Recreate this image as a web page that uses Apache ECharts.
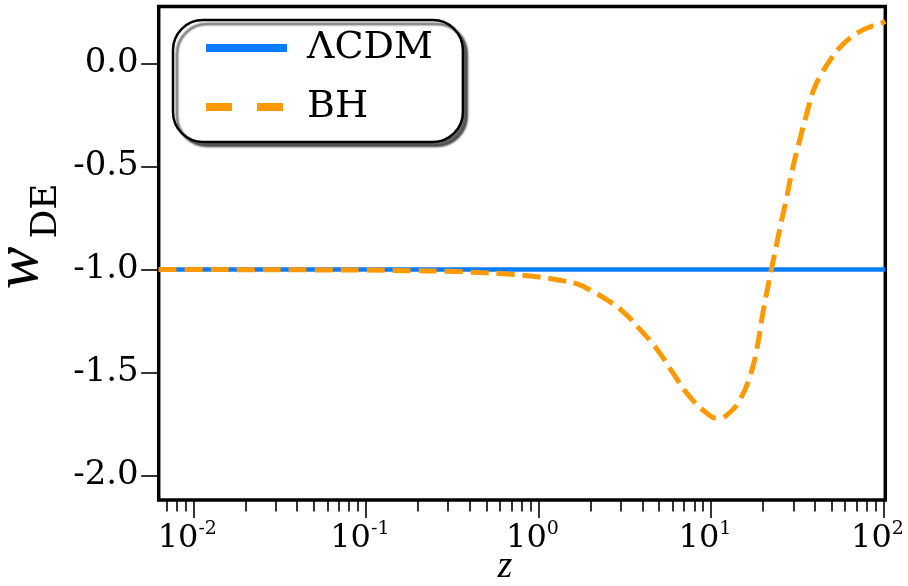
<!DOCTYPE html>
<html>
<head>
<meta charset="utf-8">
<script src="https://cdn.jsdelivr.net/npm/echarts@6/dist/echarts.min.js"></script>
<style>
  html, body { margin: 0; padding: 0; background: #fff; }
  #chart { width: 908px; height: 586px; }
</style>
</head>
<body>
<div id="chart"></div>
<script>
// Dark-energy equation of state w_DE(z) for the BH model, compared with ΛCDM.
const zBH = [0.0063, 0.01, 0.02, 0.05, 0.1, 0.19, 0.3, 0.46, 0.66, 0.93, 1.28, 1.67, 2.0, 2.5, 3.1, 3.9,
             4.9, 6.0, 7.5, 9.4, 10.9, 12.4, 14.7, 16.8, 18.4, 20.0, 21.9, 24.1, 25.7, 27.5, 29.4,
             32.5, 36.0, 39.5, 44, 49, 56, 70, 83, 100, 102.4];
const wBH = [-1.000, -1.000, -1.001, -1.002, -1.003, -1.006, -1.009, -1.015, -1.022, -1.033, -1.05, -1.07,
             -1.10, -1.148, -1.206, -1.293, -1.39, -1.50, -1.615, -1.695, -1.722, -1.705, -1.632, -1.52,
             -1.39, -1.21, -1.04, -0.872, -0.76, -0.649, -0.528, -0.38, -0.24, -0.125, -0.048, 0.015,
             0.078, 0.145, 0.176, 0.199, 0.203];
const zLCDM = [0.0063, 102.4];
const wLCDM = [-1.0, -1.0];

const xMajorTicks = [0.01, 0.1, 1, 10, 100];
const xMinorTicks = [0.007, 0.008, 0.009,
                     0.02, 0.03, 0.04, 0.05, 0.06, 0.07, 0.08, 0.09,
                     0.2, 0.3, 0.4, 0.5, 0.6, 0.7, 0.8, 0.9,
                     2, 3, 4, 5, 6, 7, 8, 9,
                     20, 30, 40, 50, 60, 70, 80, 90];
const yTicks = [-2.0, -1.5, -1.0, -0.5, 0.0];

const X_MIN = 0.0063, X_MAX = 102.4;
const Y_MIN = -2.118, Y_MAX = 0.2755;

const SERIF = '"DejaVu Serif", serif';
const MATH = '"Liberation Serif", serif';

const pairs = (xs, ys) => xs.map((x, i) => [x, ys[i]]);

const chart = echarts.init(document.getElementById('chart'), null, { renderer: 'canvas' });

const baseX = {
  type: 'log',
  logBase: 10,
  min: X_MIN,
  max: X_MAX,
  position: 'bottom',
  axisLine: { show: false, onZero: false },
  splitLine: { show: false },
  minorTick: { show: false }
};

chart.setOption({
  animation: false,
  backgroundColor: '#fff',
  grid: {
    left: 158.7, right: 22.7, top: 6.5, bottom: 86,
    show: true, borderColor: '#000', borderWidth: 3.5, backgroundColor: 'transparent'
  },
  xAxis: [
    Object.assign({}, baseX, {
      axisTick: { show: true, length: 18, customValues: xMajorTicks, lineStyle: { color: '#000', width: 1.6 } },
      axisLabel: {
        show: true,
        customValues: xMajorTicks,
        margin: 20,
        padding: [0, 12, 0, 0],
        formatter: v => '{b|10}{s|' + Math.round(Math.log10(v)) + '}',
        rich: {
          b: { fontFamily: SERIF, fontSize: 32, color: '#000', lineHeight: 38 },
          s: { fontFamily: SERIF, fontSize: 19, color: '#000', lineHeight: 19, verticalAlign: 'top' }
        }
      }
    }),
    Object.assign({}, baseX, {
      axisTick: { show: true, length: 11.5, customValues: xMinorTicks, lineStyle: { color: '#000', width: 1.6 } },
      axisLabel: { show: false }
    })
  ],
  yAxis: {
    type: 'value',
    min: Y_MIN,
    max: Y_MAX,
    axisLine: { show: false, onZero: false },
    splitLine: { show: false },
    axisTick: { show: true, length: 17.5, customValues: yTicks, lineStyle: { color: '#000', width: 1.6 } },
    axisLabel: {
      show: true,
      customValues: yTicks,
      margin: 20,
      formatter: v => v.toFixed(1),
      fontFamily: SERIF, fontSize: 34, color: '#000'
    }
  },
  legend: {
    orient: 'vertical',
    left: 173, top: 20,
    padding: [5, 30, 12, 29],
    itemWidth: 81, itemHeight: 14, itemGap: 13,
    backgroundColor: '#fff',
    borderColor: '#000', borderWidth: 2.5, borderRadius: 30,
    shadowColor: 'rgba(0,0,0,0.6)', shadowBlur: 2, shadowOffsetX: 4, shadowOffsetY: 4,
    selectedMode: false,
    textStyle: { fontFamily: SERIF, fontSize: 38, color: '#000', lineHeight: 46, padding: [0, 0, 0, 15] },
    data: [
      { name: 'ΛCDM', lineStyle: { width: 8 }, itemStyle: { opacity: 0 } },
      { name: 'BH', lineStyle: { width: 8, type: [26, 25] }, itemStyle: { opacity: 0 } }
    ]
  },
  series: [
    {
      name: 'ΛCDM', type: 'line', xAxisIndex: 0,
      data: pairs(zLCDM, wLCDM),
      symbol: 'none',
      lineStyle: { color: '#0a7cff', width: 4.5 },
      itemStyle: { color: '#0a7cff' },
      z: 3
    },
    {
      name: 'BH', type: 'line', xAxisIndex: 0,
      data: pairs(zBH, wBH),
      symbol: 'none',
      smooth: 0.5,
      lineStyle: { color: '#ff9900', width: 5, type: [18, 8] },
      itemStyle: { color: '#ff9900' },
      z: 4
    }
  ],
  graphic: [
    { type: 'text', x: 20, y: 268, rotation: Math.PI / 2,
      style: { text: 'w', font: 'italic 64px ' + MATH, fill: '#000', textAlign: 'center', textVerticalAlign: 'middle' } },
    { type: 'text', x: 46.5, y: 211, rotation: Math.PI / 2,
      style: { text: 'DE', font: '36px ' + SERIF, fill: '#000', textAlign: 'center', textVerticalAlign: 'middle' } },
    { type: 'text', x: 505, y: 567,
      style: { text: 'z', font: 'italic 38px ' + MATH, fill: '#000', textAlign: 'center', textVerticalAlign: 'middle' } }
  ]
});
</script>
</body>
</html>
